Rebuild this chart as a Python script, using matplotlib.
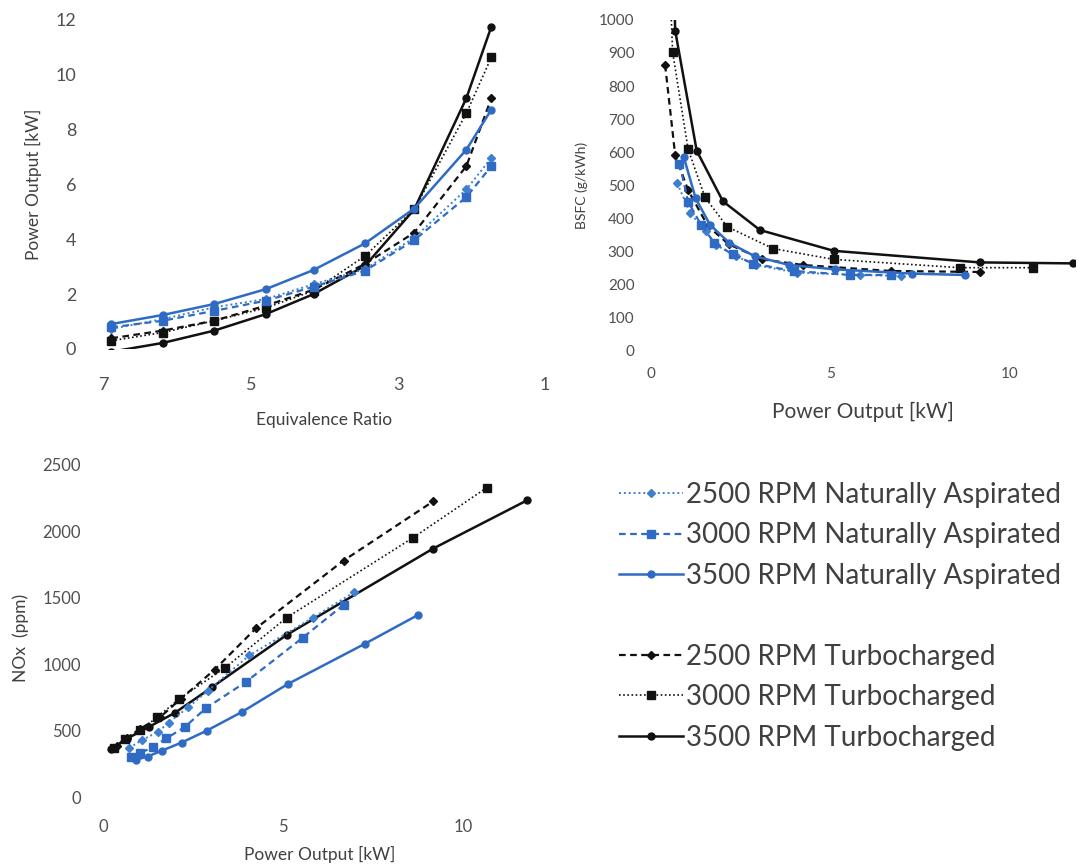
import numpy as np
import matplotlib.pyplot as plt
from matplotlib.lines import Line2D

plt.rcParams['font.family'] = ['Lato', 'DejaVu Sans']

# equivalence ratio at each test point (same for all runs)
eq_ratio = [6.9, 6.2, 5.5, 4.8, 4.15, 3.45, 2.78, 2.07, 1.73]

# power output [kW]
pw_na2500 = [0.73, 1.09, 1.52, 1.82, 2.36, 2.91, 4.06, 5.82, 6.97]
pw_na3000 = [0.79, 1.03, 1.39, 1.76, 2.27, 2.85, 3.97, 5.54, 6.67]
pw_na3500 = [0.91, 1.24, 1.64, 2.18, 2.88, 3.85, 5.12, 7.27, 8.73]
pw_tc2500 = [0.39, 0.67, 1.03, 1.58, 2.16, 3.10, 4.24, 6.67, 9.15]
pw_tc3000 = [0.30, 0.60, 1.03, 1.50, 2.12, 3.39, 5.09, 8.60, 10.64]
pw_tc3500 = [-0.10, 0.22, 0.67, 1.27, 2.00, 3.03, 5.09, 9.15, 11.76]

# BSFC [g/kWh]
bsfc_na2500 = [505, 415, 360, 318, 285, 258, 235, 228, 225]
bsfc_na3000 = [565, 450, 380, 325, 290, 262, 240, 228, 228]
bsfc_na3500 = [585, 460, 380, 325, 285, 258, 245, 232, 228]
bsfc_tc2500 = [864, 591, 485, 376, 321, 275, 258, 240, 237]
bsfc_tc3000 = [1700, 902, 609, 463, 374, 308, 275, 250, 250]
bsfc_tc3500 = [np.nan, 3000, 968, 604, 451, 364, 301, 266, 263]

# NOx [ppm]
nox_na2500 = [370, 430, 490, 560, 675, 800, 1067, 1350, 1544]
nox_na3000 = [300, 330, 378, 442, 527, 668, 868, 1200, 1446]
nox_na3500 = [280, 305, 350, 410, 500, 640, 850, 1155, 1370]
nox_tc2500 = [385, 445, 515, 600, 740, 960, 1270, 1780, 2225]
nox_tc3000 = [370, 440, 502, 600, 740, 974, 1350, 1953, 2329]
nox_tc3500 = [np.nan, 359, 440, 527, 635, 828, 1220, 1870, 2234]

labels = ["2500 RPM Naturally Aspirated", "3000 RPM Naturally Aspirated",
          "3500 RPM Naturally Aspirated", "2500 RPM Turbocharged",
          "3000 RPM Turbocharged", "3500 RPM Turbocharged"]

blue = "#2f6bc4"
lblue = "#3f7fd0"
blk = "#111111"
styles = [
    dict(color=lblue, ls=(0, (1, 1.5)), marker="D", ms=4, lw=1.4),
    dict(color=blue, ls=(0, (3, 2)), marker="s", ms=5.5, lw=1.6),
    dict(color=blue, ls="-", marker="o", ms=5, lw=1.8),
    dict(color=blk, ls=(0, (3, 2)), marker="D", ms=4, lw=1.6),
    dict(color=blk, ls=(0, (1, 1.5)), marker="s", ms=6, lw=1.2),
    dict(color=blk, ls="-", marker="o", ms=5, lw=1.8),
]

pw = [pw_na2500, pw_na3000, pw_na3500, pw_tc2500, pw_tc3000, pw_tc3500]
bsfc = [bsfc_na2500, bsfc_na3000, bsfc_na3500, bsfc_tc2500, bsfc_tc3000, bsfc_tc3500]
nox = [nox_na2500, nox_na3000, nox_na3500, nox_tc2500, nox_tc3000, nox_tc3500]

txt = "#404040"
fig = plt.figure(figsize=(10.78, 8.67), dpi=100)

ax1 = fig.add_axes([0.0965, 0.5975, 0.4091, 0.3795])
ax2 = fig.add_axes([0.604, 0.596, 0.393, 0.381])
ax3 = fig.add_axes([0.0955, 0.0807, 0.4015, 0.383])

order = [3, 4, 5, 0, 1, 2]
for i in order:
    ax1.plot(eq_ratio, pw[i], **styles[i])
    ax2.plot(pw[i], bsfc[i], **styles[i])
    ax3.plot(pw[i], nox[i], **styles[i])

ax1.set_xlim(7, 1)
ax1.set_ylim(0, 12)
ax1.set_xticks([7, 5, 3, 1])
ax1.set_yticks(range(0, 13, 2))
ax1.set_xlabel("Equivalence Ratio", fontsize=12.5, color=txt, labelpad=14)
ax1.set_ylabel("Power Output [kW]", fontsize=12.5, color=txt, labelpad=10)
ax1.tick_params(labelsize=13, pad=20)

ax2.set_xlim(0, 11.8)
ax2.set_ylim(0, 1000)
ax2.set_xticks([0, 5, 10])
ax2.set_yticks(range(0, 1001, 100))
ax2.set_xlabel("Power Output [kW]", fontsize=15, color=txt, labelpad=15)
ax2.set_ylabel("BSFC (g/kWh)", fontsize=10, color=txt, labelpad=8)
ax2.tick_params(labelsize=11, pad=12)

ax3.set_xlim(0, 12)
ax3.set_ylim(0, 2500)
ax3.set_xticks([0, 5, 10])
ax3.set_yticks(range(0, 2501, 500))
ax3.set_xlabel("Power Output [kW]", fontsize=12.5, color=txt, labelpad=8)
ax3.set_ylabel("NOx  (ppm)", fontsize=12.5, color=txt)
ax3.yaxis.set_label_coords(-0.171, 0.48)
ax3.tick_params(labelsize=12, pad=16)

for ax in (ax1, ax2, ax3):
    for s in ax.spines.values():
        s.set_visible(False)
    ax.tick_params(length=0, labelcolor="#505050")

handles = [Line2D([], [], **styles[i]) for i in range(6)]
blank = Line2D([], [], color="none")
fig.legend(handles[:3] + [blank] + handles[3:], labels[:3] + [""] + labels[3:],
           loc="upper left", bbox_to_anchor=(0.551, 0.473), frameon=False,
           fontsize=20, handlelength=2.3, handletextpad=0.12,
           labelspacing=0.52, labelcolor=txt)

fig.savefig("out.png", dpi=100)
